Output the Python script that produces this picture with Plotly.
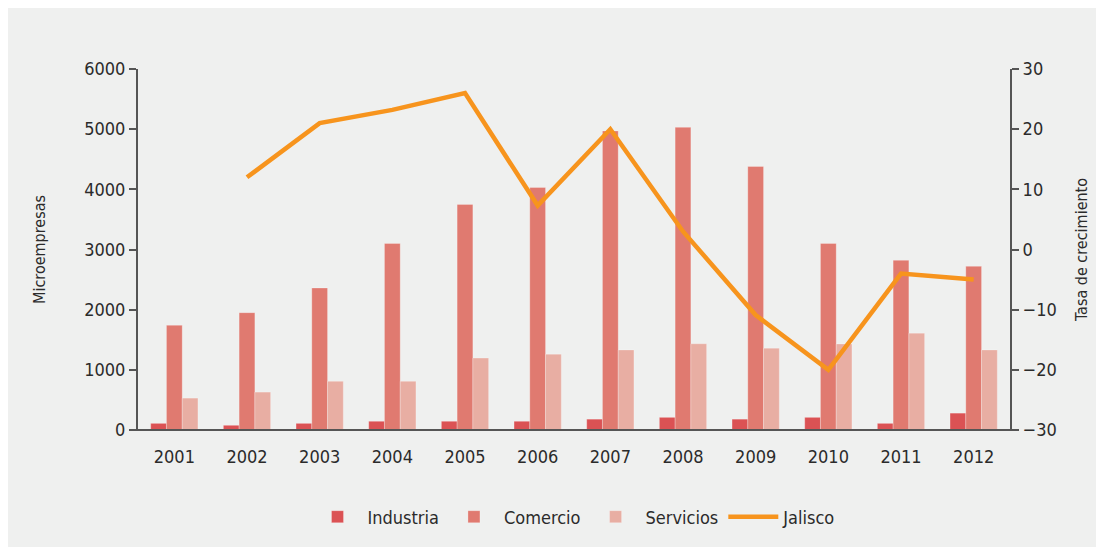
import plotly.graph_objects as go

years = ["2001", "2002", "2003", "2004", "2005", "2006", "2007", "2008", "2009", "2010", "2011", "2012"]
industria = [110, 78, 110, 145, 145, 145, 180, 210, 180, 210, 110, 280]
comercio = [1740, 1950, 2360, 3100, 3750, 4030, 4970, 5030, 4380, 3100, 2820, 2720]
servicios = [530, 630, 810, 810, 1195, 1260, 1330, 1433, 1360, 1430, 1610, 1330]
jalisco = [None, 12, 21, 23.2, 26, 7.3, 20, 3, -10.9, -20, -4, -5]

FONT = "DejaVu Sans Condensed, Liberation Sans Narrow, sans-serif"
TXT = "#2b2b2b"
AX = "#555555"

fig = go.Figure()
edge = dict(color="rgba(255,255,255,0.5)", width=0.5)
fig.add_trace(go.Bar(x=years, y=industria, name="Industria", marker=dict(color="#db5254", line=edge)))
fig.add_trace(go.Bar(x=years, y=comercio, name="Comercio", marker=dict(color="#e07a70", line=edge)))
fig.add_trace(go.Bar(x=years, y=servicios, name="Servicios", marker=dict(color="#e8aea3", line=edge)))
fig.add_trace(go.Scatter(x=years, y=jalisco, name="Jalisco", yaxis="y2", mode="lines",
                         line=dict(color="#f7941d", width=4.5), connectgaps=False))

# page has an 8px body margin; figure occupies page (8,8)-(1104,547)
W, H = 1096, 539
L, R, T, B = 130, 94, 61, 117
pw = W - L - R
ph = H - T - B

fig.update_layout(
    width=W, height=H,
    margin=dict(l=L, r=R, t=T, b=B, pad=0),
    paper_bgcolor="#eff0ef",
    plot_bgcolor="rgba(0,0,0,0)",
    barmode="group", bargap=0.35, bargroupgap=0,
    font=dict(family=FONT, color=TXT, size=18),
    showlegend=True,
    legend=dict(orientation="h", x=0.5, xanchor="center", y=(430 - 517) / ph, yanchor="middle",
                font=dict(size=18, color=TXT), bgcolor="rgba(0,0,0,0)", itemwidth=50,
                traceorder="normal"),
    xaxis=dict(showline=False, ticks="outside", ticklen=10, tickcolor="rgba(0,0,0,0)",
               showgrid=False, tickfont=dict(size=18, color=TXT), zeroline=False),
    yaxis=dict(range=[0, 6000], tickvals=[0, 1000, 2000, 3000, 4000, 5000, 6000],
               showline=True, linecolor=AX, linewidth=2, ticks="outside", ticklen=7,
               tickcolor=AX, tickwidth=1.5, showgrid=False, zeroline=False,
               tickfont=dict(size=18, color=TXT),
               title=dict(text="Microempresas", font=dict(size=16, color=TXT), standoff=35)),
    yaxis2=dict(range=[-30, 30], tickvals=[-30, -20, -10, 0, 10, 20, 30], overlaying="y", side="right",
                showline=True, linecolor=AX, linewidth=2, ticks="outside", ticklen=7,
                tickcolor=AX, tickwidth=1.5, showgrid=False, zeroline=False,
                tickfont=dict(size=18, color=TXT),
                title=dict(text="Tasa de crecimiento", font=dict(size=16, color=TXT), standoff=20)),
    shapes=[dict(type="line", xref="paper", yref="paper", layer="above",
                 x0=-7 / pw, x1=1 + 7 / pw, y0=0, y1=0,
                 line=dict(color=AX, width=2))],
)

fig.write_html("out.html")
